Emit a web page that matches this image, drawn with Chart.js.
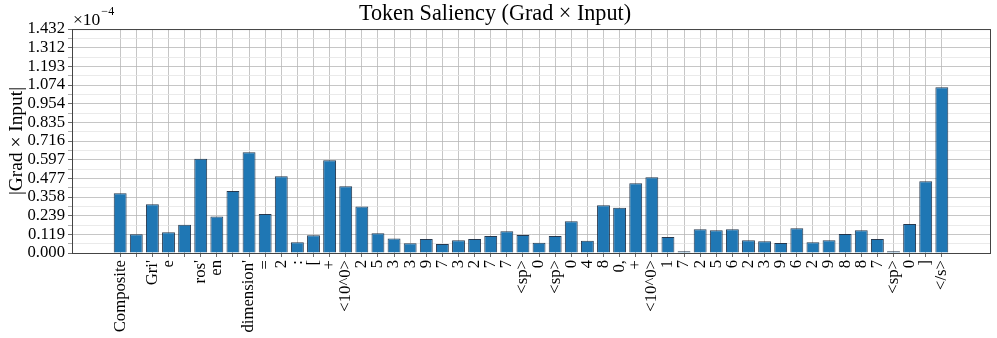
<!DOCTYPE html>
<html>
<head>
<meta charset="utf-8">
<script src="https://cdn.jsdelivr.net/npm/chart.js@4.4.1/dist/chart.umd.min.js"></script>
<style>
  html, body { margin: 0; padding: 0; background: #fff; }
</style>
</head>
<body>
<canvas id="myChart" width="997" height="338"></canvas>
<script>
// tokens along the x axis
const tokens = [
  'Composite', '', "Gri'", 'e', '', "ros'", 'en', '', "dimension'", '=', '2', ':', '[', '+',
  '<10^0>', '2', '5', '3', '3', '9', '7', '3', '2', '7', '7', '<sp>', '0', '<sp>', '0',
  '4', '8', '0,', '+', '<10^0>', '1', '7', '2', '5', '6', '2', '3', '9', '6', '2', '9',
  '8', '8', '7', '<sp>', '0', ']', '</s>'
];
// |grad x input| in units of 1e-4
const saliency = [
  0.382, 0.120, 0.311, 0.132, 0.181, 0.603, 0.234, 0.396, 0.644, 0.249, 0.490, 0.068, 0.113, 0.593,
  0.426, 0.298, 0.126, 0.092, 0.062, 0.090, 0.058, 0.081, 0.090, 0.109, 0.139, 0.115, 0.066, 0.109, 0.203,
  0.079, 0.305, 0.290, 0.446, 0.484, 0.102, 0.011, 0.152, 0.145, 0.152, 0.081, 0.075, 0.064, 0.158, 0.068, 0.081,
  0.121, 0.145, 0.090, 0.011, 0.185, 0.458, 1.059
];
const yTickLabels = ['0.000', '0.119', '0.239', '0.358', '0.477', '0.597', '0.716',
                     '0.835', '0.954', '1.074', '1.193', '1.312', '1.432'];
const yMax = 1.4318;
const xMin = -2.99, xMax = 53.99;

Chart.defaults.font.family = "'Liberation Serif', 'Times New Roman', serif";
Chart.defaults.color = '#000';

// the "x10^-4" offset label and the box around the plot
const frame = {
  id: 'frame',
  afterDatasetsDraw(chart) {
    const a = chart.chartArea, ctx = chart.ctx;
    ctx.save();
    ctx.strokeStyle = '#444';
    ctx.lineWidth = 1;
    ctx.strokeRect(a.left + 0.5, a.top + 0.5, a.right - a.left, a.bottom - a.top);
    ctx.restore();
  },
  afterDraw(chart) {
    const a = chart.chartArea, ctx = chart.ctx;
    ctx.save();
    ctx.fillStyle = '#000';
    ctx.textBaseline = 'alphabetic';
    ctx.font = "17.5px 'Liberation Serif'";
    ctx.fillText('\u00d710', a.left + 1, a.top - 4);
    const w = ctx.measureText('\u00d710').width;
    ctx.font = "12px 'Liberation Serif'";
    ctx.fillText('\u22124', a.left + 1 + w + 1, a.top - 14);
    ctx.restore();
  }
};

const ctx = document.getElementById('myChart').getContext('2d');
const myChart = new Chart(ctx, {
  type: 'bar',
  data: {
    datasets: [{
      data: saliency.map((v, i) => ({ x: i, y: v })),
      backgroundColor: '#1f77b4',
      borderColor: 'rgba(15,35,60,0.9)',
      borderWidth: 1,
      barPercentage: 0.8,
      categoryPercentage: 1
    }]
  },
  options: {
    responsive: false,
    animation: false,
    layout: { padding: { left: 0, right: 7, top: 0, bottom: 0 } },
    plugins: {
      legend: { display: false },
      tooltip: { enabled: false },
      title: {
        display: true,
        text: 'Token Saliency (Grad \u00d7 Input)',
        color: '#000',
        font: { size: 22.2, weight: 'normal' },
        padding: { top: 1, bottom: 1.4 }
      }
    },
    scales: {
      x: {
        type: 'linear',
        min: xMin,
        max: xMax,
        offset: false,
        afterBuildTicks: s => { s.ticks = tokens.map((t, i) => ({ value: i })); },
        afterFit: s => { s.height = 85; },
        ticks: {
          autoSkip: false,
          maxRotation: 90,
          minRotation: 90,
          padding: 3,
          color: '#000',
          font: { size: 16.7 },
          callback: v => tokens[v]
        },
        grid: { offset: false, color: '#b8b8b8', lineWidth: 0.8, tickLength: 4, tickColor: '#444' },
        border: { color: '#444', width: 1 }
      },
      y: {
        min: 0,
        max: yMax,
        afterBuildTicks: s => {
          s.ticks = [];
          for (let i = 0; i <= 24; i++) s.ticks.push({ value: i * yMax / 24 });
        },
        afterFit: s => { s.width = 72; },
        ticks: {
          autoSkip: false,
          padding: 3,
          color: '#000',
          font: { size: 16.7 },
          callback: (v, i) => (i % 2 ? '' : yTickLabels[i / 2])
        },
        grid: {
          color: c => (c.index % 2 ? '#e4e4e4' : '#b8b8b8'),
          lineWidth: 0.8,
          tickLength: 4,
          tickColor: c => (c.index % 2 ? '#999' : '#444')
        },
        border: { color: '#444', width: 1 },
        title: {
          display: true,
          text: '|Grad \u00d7 Input|',
          color: '#000',
          font: { size: 19.4 },
          padding: { top: 5, bottom: 0 }
        }
      }
    }
  },
  plugins: [frame]
});
</script>
</body>
</html>
